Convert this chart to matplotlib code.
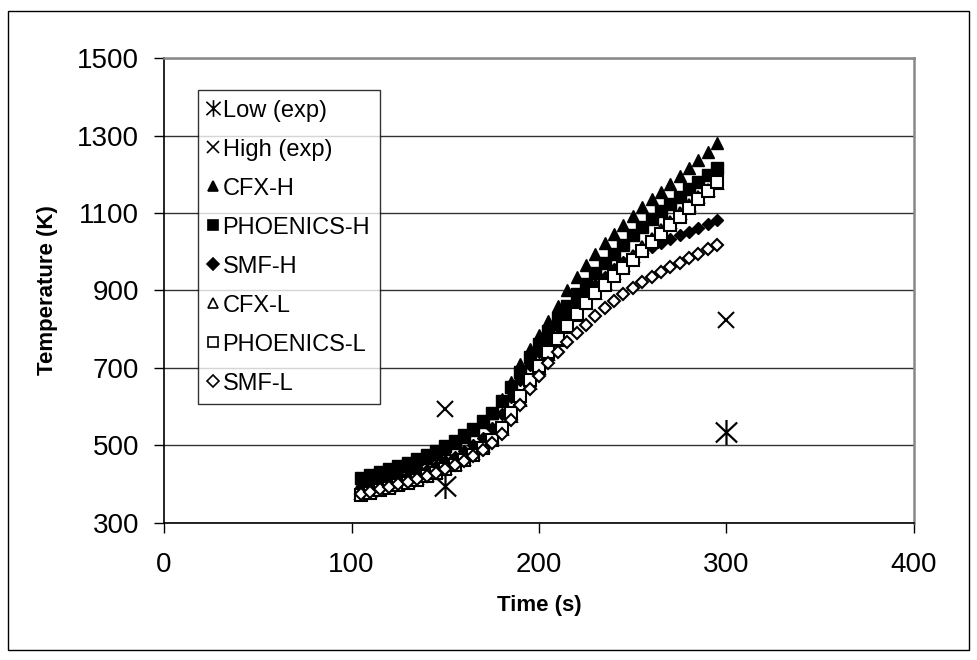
import numpy as np
import matplotlib.pyplot as plt
from matplotlib.path import Path
from matplotlib.patches import Rectangle

plt.rcParams['font.family'] = ['Liberation Sans', 'DejaVu Sans']

# experimental points
exp_time = [150, 300]
low_exp = [395, 535]
high_exp = [594, 824]

# simulated series, every 5 s from 105 to 295
sim_time = list(range(105, 300, 5))
cfx_h = [405, 412, 420, 428, 437, 446, 456, 467, 479, 492, 506, 522, 540, 560, 585, 620,
         665, 710, 750, 785, 820, 860, 900, 935, 965, 995, 1022, 1046, 1070, 1093, 1115,
         1135, 1155, 1175, 1195, 1215, 1237, 1258, 1281]
phoenics_h = [415, 423, 431, 439, 447, 456, 465, 475, 486, 498, 511, 526, 543, 562, 585, 615,
              650, 690, 728, 762, 795, 828, 860, 890, 918, 944, 970, 995, 1018, 1042, 1063,
              1084, 1104, 1123, 1142, 1161, 1180, 1198, 1216]
smf_h = [385, 392, 399, 406, 413, 421, 429, 438, 448, 459, 471, 485, 501, 520, 545, 580,
         625, 670, 708, 740, 772, 805, 838, 868, 893, 915, 936, 955, 973, 990, 1001, 1011,
         1022, 1032, 1042, 1052, 1062, 1072, 1082]
cfx_l = [378, 383, 389, 395, 401, 408, 415, 423, 432, 442, 453, 466, 481, 498, 518, 542,
         575, 617, 660, 700, 737, 772, 806, 838, 867, 894, 920, 944, 967, 990, 1012, 1034,
         1056, 1078, 1099, 1120, 1141, 1160, 1178]
phoenics_l = [372, 378, 384, 390, 397, 404, 412, 420, 429, 439, 450, 462, 476, 493, 515, 545,
              585, 628, 670, 705, 740, 775, 808, 840, 868, 893, 915, 937, 958, 980, 1002,
              1024, 1046, 1068, 1090, 1112, 1135, 1158, 1180]
smf_l = [375, 381, 387, 393, 400, 407, 414, 422, 430, 439, 449, 460, 473, 488, 506, 530,
         565, 605, 645, 680, 712, 742, 766, 790, 812, 834, 854, 872, 890, 906, 921, 935,
         948, 960, 972, 983, 995, 1007, 1018]

# asterisk: X plus vertical bar
star = Path([(-0.85, -0.8), (0.85, 0.8), (-0.85, 0.8), (0.85, -0.8), (0, -1), (0, 1)],
            [Path.MOVETO, Path.LINETO, Path.MOVETO, Path.LINETO, Path.MOVETO, Path.LINETO])

fig = plt.figure(figsize=(9.77, 6.6), dpi=100)
ax = fig.add_axes([0.1679, 0.2076, 0.7676, 0.7045])

ax.plot(exp_time, low_exp, ls='none', marker=star, ms=18, mec='black', mew=1.6,
        label='Low (exp)')
ax.plot(exp_time, high_exp, ls='none', marker='x', ms=12, mec='black', mew=1.5,
        label='High (exp)')
ax.plot(sim_time, cfx_h, ls='none', marker='^', ms=8.5, mfc='black', mec='black',
        label='CFX-H')
ax.plot(sim_time, phoenics_h, ls='none', marker='s', ms=8, mfc='black', mec='black',
        label='PHOENICS-H')
ax.plot(sim_time, smf_h, ls='none', marker='D', ms=6.5, mfc='black', mec='black',
        label='SMF-H')
ax.plot(sim_time, cfx_l, ls='none', marker='^', ms=8.5, mfc='white', mec='black', mew=1.5,
        label='CFX-L')
ax.plot(sim_time, phoenics_l, ls='none', marker='s', ms=8, mfc='white', mec='black', mew=1.5,
        label='PHOENICS-L')
ax.plot(sim_time, smf_l, ls='none', marker='D', ms=6.5, mfc='white', mec='black', mew=1.5,
        label='SMF-L')

ax.set_xlim(0, 400)
ax.set_ylim(300, 1500)
ax.set_xticks([0, 100, 200, 300, 400])
ax.set_yticks([300, 500, 700, 900, 1100, 1300, 1500])
ax.tick_params(direction='out', length=7, width=1, labelsize=20, color='black')
ax.tick_params(axis='y', pad=11)
ax.tick_params(axis='x', pad=14)
ax.yaxis.grid(True, color='#333333', lw=1)
ax.set_axisbelow(True)

for side in ['left', 'bottom']:
    ax.spines[side].set_color('black')
    ax.spines[side].set_linewidth(1.2)
for side in ['top', 'right']:
    ax.spines[side].set_color('#888888')
    ax.spines[side].set_linewidth(1.8)

ax.set_xlabel('Time (s)', fontsize=16, fontweight='bold', labelpad=12)
ax.set_ylabel('Temperature (K)', fontsize=16, fontweight='bold', labelpad=14)

leg = ax.legend(loc='upper left', bbox_to_anchor=(0.045, 0.931), borderaxespad=0,
                fontsize=17, frameon=True, fancybox=False, edgecolor='black',
                handlelength=0.5, handletextpad=0.15, labelspacing=0.72, borderpad=0.4)
leg.get_frame().set_linewidth(1.0)
for h, s in zip(leg.legend_handles, [12, 9, 6.5, 7.5, 6, 6.5, 7.5, 6]):
    h.set_markersize(s)
    h.set_markeredgewidth(1.2)

# outer border around the figure
fig.patches.append(Rectangle((8 / 977, 1 - 650 / 660), 961 / 977, 639 / 660,
                             transform=fig.transFigure, fill=False, ec='black', lw=1))

fig.savefig('out.png', dpi=100)
